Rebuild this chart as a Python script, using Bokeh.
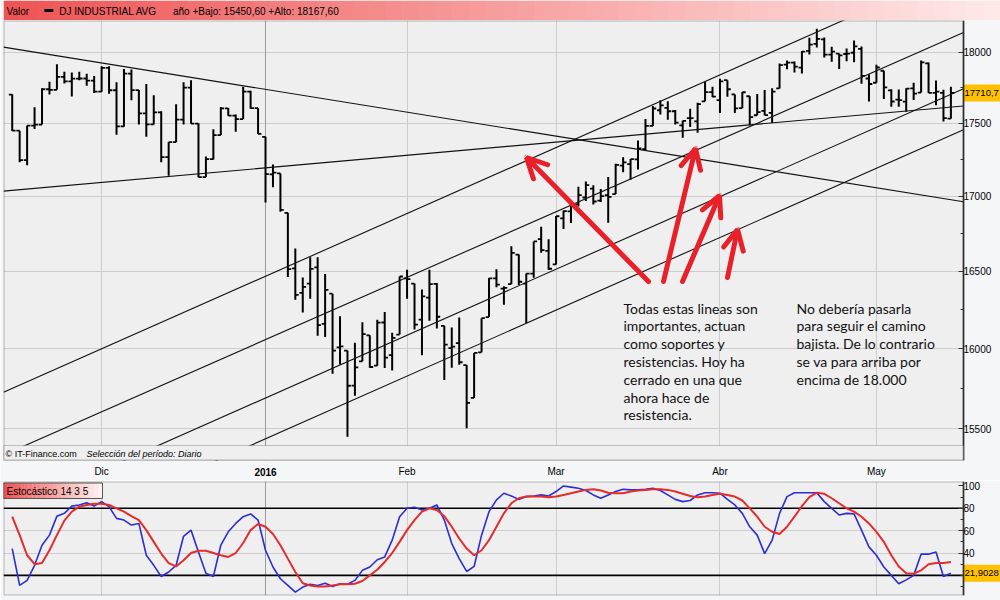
import math
import numpy as np
from bokeh.plotting import figure
from bokeh.layouts import column
from bokeh.models import (Range1d, FixedTicker, PrintfTickFormatter, Label, Arrow,
                          OpenHead, BoxAnnotation, Span, ColumnDataSource, LinearAxis)
from bokeh.embed import file_html
from bokeh.resources import INLINE

# ---------------- data ----------------
trading_days = {
    "2015-11": [12, 13, 16, 17, 18, 19, 20, 23, 24, 25, 27, 30],
    "2015-12": [1, 2, 3, 4, 7, 8, 9, 10, 11, 14, 15, 16, 17, 18, 21, 22, 23, 24, 28, 29, 30, 31],
    "2016-01": [4, 5, 6, 7, 8, 11, 12, 13, 14, 15, 19, 20, 21, 22, 25, 26, 27, 28, 29],
    "2016-02": [1, 2, 3, 4, 5, 8, 9, 10, 11, 12, 16, 17, 18, 19, 22, 23, 24, 25, 26, 29],
    "2016-03": [1, 2, 3, 4, 7, 8, 9, 10, 11, 14, 15, 16, 17, 18, 21, 22, 23, 24, 28, 29, 30, 31],
    "2016-04": [1, 4, 5, 6, 7, 8, 11, 12, 13, 14, 15, 18, 19, 20, 21, 22, 25, 26, 27, 28, 29],
    "2016-05": [2, 3, 4, 5, 6, 9, 10, 11, 12, 13, 16],
}
month_labels = {"2015-12": "Dic", "2016-01": "2016", "2016-02": "Feb",
                "2016-03": "Mar", "2016-04": "Abr", "2016-05": "May"}

opens = [17700, 17448, 17245, 17483, 17490, 17737, 17733, 17824, 17793, 17812, 17813, 17798,
         17720, 17888, 17730, 17478, 17848, 17731, 17568, 17492, 17575, 17265, 17368, 17525, 17749, 17496, 17129, 17252, 17417, 17603, 17552, 17528, 17721, 17604,
         17405, 17147, 17154, 16888, 16520, 16359, 16420, 16526, 16159, 16354, 16009, 15989, 15768, 15921, 16086, 15893, 16168, 15960, 16091,
         16454, 16420, 16186, 16329, 16418, 16147, 16005, 16036, 15897, 15691, 15978, 16203, 16454, 16387, 16417, 16610, 16419, 16485, 16712, 16634,
         16545, 16851, 16897, 16945, 16991, 17051, 16970, 17006, 17014, 17207, 17218, 17250, 17321, 17481, 17590, 17606, 17583, 17485, 17535, 17512, 17652, 17717,
         17661, 17801, 17701, 17605, 17688, 17555, 17586, 17572, 17743, 17912, 17925, 17890, 18009, 18059, 18092, 17982, 17990, 17987, 17996, 18024, 17813,
         17783, 17868, 17729, 17664, 17650, 17743, 17714, 17920, 17711, 17711, 17531]
highs = [17702, 17448, 17483, 17610, 17745, 17790, 17914, 17860, 17855, 17860, 17846, 17830,
         17900, 17900, 17786, 17880, 17876, 17731, 17775, 17695, 17583, 17370, 17631, 17786, 17800, 17500, 17270, 17457, 17612, 17605, 17560, 17755, 17727, 17604,
         17405, 17215, 17154, 16888, 16651, 16460, 16592, 16593, 16482, 16354, 16208, 15989, 16038, 16170, 16086, 16185, 16235, 16102, 16466,
         16510, 16420, 16381, 16511, 16423, 16147, 16136, 16201, 15897, 15974, 16196, 16457, 16514, 16402, 16665, 16610, 16485, 16697, 16795, 16711,
         16867, 16903, 16945, 17063, 17099, 17073, 17049, 17130, 17220, 17265, 17252, 17379, 17529, 17620, 17660, 17652, 17592, 17516, 17601, 17642, 17790, 17754,
         17811, 17801, 17701, 17717, 17688, 17703, 17731, 17744, 17920, 17940, 17933, 18009, 18104, 18168, 18106, 18039, 17990, 18026, 18084, 18041, 17842,
         17911, 17868, 17737, 17736, 17744, 17783, 17940, 17926, 17798, 17734, 17754]
lows = [17445, 17230, 17210, 17460, 17490, 17700, 17733, 17777, 17686, 17800, 17762, 17710,
        17720, 17705, 17420, 17475, 17660, 17490, 17405, 17490, 17230, 17138, 17368, 17490, 17496, 17128, 17129, 17250, 17417, 17552, 17440, 17528, 17600, 17425,
        16957, 17060, 16895, 16463, 16315, 16232, 16322, 16083, 16075, 15842, 15900, 15451, 15704, 15921, 15880, 15893, 15878, 15863, 16091,
        16322, 16123, 15960, 16179, 16130, 15803, 15881, 15899, 15503, 15691, 15978, 16203, 16396, 16282, 16417, 16410, 16165, 16458, 16623, 16511,
        16545, 16779, 16820, 16930, 16968, 16944, 16960, 16821, 17014, 17162, 17111, 17180, 17307, 17481, 17560, 17523, 17490, 17399, 17474, 17434, 17652, 17680,
        17570, 17685, 17570, 17603, 17485, 17555, 17555, 17501, 17743, 17879, 17855, 17848, 17984, 18033, 17963, 17932, 17880, 17936, 17929, 17776, 17651,
        17783, 17669, 17615, 17615, 17580, 17661, 17714, 17710, 17625, 17511, 17531]
closes = [17448, 17245, 17483, 17490, 17737, 17733, 17824, 17793, 17812, 17813, 17798, 17720,
          17888, 17730, 17478, 17848, 17731, 17568, 17492, 17575, 17265, 17368, 17525, 17749, 17496, 17129, 17252, 17417, 17603, 17552, 17528, 17721, 17604, 17425,
          17149, 17159, 16907, 16514, 16346, 16399, 16516, 16151, 16379, 15988, 16016, 15767, 15883, 16094, 15885, 16167, 15944, 16070, 16466,
          16449, 16154, 16337, 16417, 16205, 16027, 16014, 15915, 15660, 15974, 16196, 16454, 16413, 16392, 16621, 16432, 16485, 16697, 16640, 16517,
          16865, 16899, 16944, 17007, 17074, 16964, 17000, 16995, 17213, 17229, 17252, 17326, 17481, 17602, 17624, 17583, 17503, 17516, 17535, 17633, 17717, 17685,
          17793, 17737, 17603, 17716, 17542, 17577, 17556, 17721, 17908, 17926, 17897, 18004, 18054, 18096, 17983, 18004, 17977, 17990, 18042, 17831, 17774,
          17891, 17751, 17651, 17661, 17741, 17706, 17928, 17711, 17720, 17535, 17710.7]

stoch_k = [44, 11, 15.5, 29, 47, 56, 73, 75.5, 82, 83,
           85, 82, 86, 81.5, 71, 69.5, 65, 66.5, 38, 29,
           19, 23, 29, 55, 60.5, 41, 22, 19, 47, 59,
           66.5, 72.5, 75, 69.5, 42.5, 27.5, 17, 11, 5, 9.5,
           12, 11, 13, 10, 12.5, 12, 15.5, 24.5, 27.5, 34,
           36.5, 51.5, 72.5, 80, 81, 78.5, 80, 83, 69.5, 48.5,
           35, 23.5, 28, 56, 77, 87.5, 93.5, 91, 88, 90.5,
           91, 92, 91, 95, 100, 99, 98, 96, 92, 89,
           92, 95, 97, 96.5, 96.5, 97, 98, 96, 92, 88,
           86, 87, 92, 94, 94, 93.5, 88, 83, 75.5, 63.5,
           56, 39.5, 51.5, 75.5, 90.5, 94, 94, 94, 94, 86,
           80, 74, 75.5, 75, 60.5, 45.5, 38, 27.5, 20, 12.5,
           16, 20, 39, 39, 41, 19, 21.9028]
stoch_d = [72.5, 56, 38, 30, 31, 42.5, 56, 69, 77, 81.5,
           83, 84, 84, 83, 80, 77, 73, 69.5, 60.5, 50,
           39.5, 31, 28, 33.5, 40, 42, 42, 40, 38, 36.5,
           40, 49, 60.5, 66, 63.5, 57, 47, 35, 23, 13,
           11, 10, 10, 11, 12, 12, 12.5, 15, 20, 25,
           32, 40, 50, 60.5, 69.5, 77, 80, 78.5, 73, 63.5,
           53, 44, 38, 42.5, 51.5, 63.5, 75.5, 84.5, 89, 90.5,
           90.5, 90.5, 90, 90.5, 92, 93.5, 95, 96.5, 97, 96,
           94, 93.5, 93.5, 95, 96, 96.5, 97, 97, 96.5, 95,
           93, 91, 90, 90.5, 92, 93, 92, 90.5, 87, 80,
           72.5, 63.5, 59, 57, 63.5, 72.5, 82, 90, 94, 93,
           89, 84.5, 80, 77, 72.5, 66.5, 59, 50, 38, 28,
           22, 21.5, 24.5, 30, 31, 31, 32]

price_ticks = [15500, 16000, 16500, 17000, 17500, 18000]
price_minor_ticks = [15250, 15750, 16250, 16750, 17250, 17750, 18250]
stoch_ticks = [40, 60, 80, 100]
stoch_minor_ticks = [10, 20, 30, 50, 70, 90]
stoch_levels = [20, 80]

# trend lines: (index, price) at the left and right edges of the chart
trend_x0 = [-1.17, -1.17, -1.17, -1.17, -1.17, -1.17]
trend_p0 = [15726, 15340, 14984, 14743, 18036, 17034]
trend_x1 = [127.69, 127.69, 127.69, 127.69, 127.69, 127.69]
trend_p1 = [18619, 18141, 17741, 17455, 16962, 17620]

header_left = "Valor"
header_series = "DJ INDUSTRIAL AVG"
header_info = "año +Bajo: 15450,60 +Alto: 18167,60"
note_left = ["Todas estas lineas son", "importantes, actuan", "como soportes y",
             "resistencias. Hoy ha", "cerrado en una que", "ahora hace de", "resistencia."]
note_right = ["No debería pasarla", "para seguir el camino", "bajista. De lo contrario",
              "se va para arriba por", "encima de 18.000"]

# ---------------- derived ----------------
dates = [f"{m}-{d:02d}" for m, ds in trading_days.items() for d in ds]
idx = np.arange(len(dates), dtype=float)
month_first = {}
for i, dstr in enumerate(dates):
    m = dstr[:7]
    if m in month_labels and m not in month_first:
        month_first[m] = i
month_ticks = list(month_first.values())
jan_idx = month_first["2016-01"]
last_close = closes[-1]
last_k = stoch_k[-1]

# ---------------- layout geometry ----------------
X0 = -1.17
KX = 128.86 / 960.0             # index units per pixel
XR = X0 + 997 * KX              # frame x 3..1000 px
XA = X0 + 960 * KX              # axis position (x = 963 px)
Y0, Y1 = 15306.0, 18228.0       # frame y 20..460 px (page)
S0, S1 = 2.0, 104.0             # stoch frame y 481..595 px (page)
LNK = 440.0 / math.log(Y1 / Y0)  # px per ln unit
SK = 114.0 / (S1 - S0)          # px per stoch unit
FONT = "Liberation Sans"
RED = "#e8202a"
ORANGE = "#ffc000"
SIDE = "#f4f6f8"


def px2idx(xp):
    return X0 + (xp - 3) * KX


def py2price(yp):
    return math.exp(math.log(Y1) - (yp - 20) / LNK)


def py2stoch(yp):
    return S1 - (yp - 481) / SK


def grad(c0, c1, n):
    out = []
    for t in np.linspace(0, 1, n):
        c = [int(round(a + (b - a) * t)) for a, b in zip(c0, c1)]
        out.append("#%02x%02x%02x" % tuple(c))
    return out


def style_axis(ax, size="10px"):
    ax.major_label_text_font = FONT
    ax.major_label_text_font_size = size
    ax.major_label_text_color = "black"


def style_value_axis(ax, ticks, minor):
    ax.ticker = FixedTicker(ticks=ticks, minor_ticks=minor)
    ax.formatter = PrintfTickFormatter(format="%d")
    ax.fixed_location = XA
    ax.major_tick_in, ax.major_tick_out = 5, 0
    ax.minor_tick_in, ax.minor_tick_out = 3, 0
    ax.axis_line_color = "#333333"
    ax.axis_line_width = 1.5
    ax.major_tick_line_color = "#333333"
    ax.minor_tick_line_color = "#333333"
    ax.major_label_standoff = 0
    style_axis(ax)


# ---------------- header ----------------
hd = figure(width=1000, height=20, x_range=Range1d(0, 1000), y_range=Range1d(20, 0),
            toolbar_location=None, output_backend="svg", min_border=0,
            x_axis_location=None, y_axis_location=None, outline_line_color=None,
            border_fill_color=SIDE, background_fill_color=SIDE)
hd.grid.visible = False
n = 60
edges = np.linspace(0, 1000, n + 1)
hd.quad(left=edges[:-1], right=edges[1:] + 0.6, top=0, bottom=20,
        fill_color=grad((238, 84, 84), (255, 232, 232), n), line_color=None)
hd.quad(left=[41], right=[50], top=[8.5], bottom=[11.5], fill_color="black", line_color=None)
for x, t in [(3, header_left), (56, header_series), (170, header_info)]:
    hd.add_layout(Label(x=x, y=10.5, text=t, text_font=FONT, text_font_size="10px",
                        text_baseline="middle", text_color="black"))

# ---------------- price panel ----------------
p = figure(width=1000, height=460, x_range=Range1d(X0, XR), y_range=Range1d(Y0, Y1),
           y_axis_type="log", y_axis_location="right", toolbar_location=None,
           output_backend="svg", min_border_left=3, min_border_right=0,
           min_border_top=0, min_border_bottom=20,
           background_fill_color="#efefef", border_fill_color=SIDE,
           outline_line_color=None)
p.xgrid.ticker = FixedTicker(ticks=month_ticks)
p.ygrid.ticker = FixedTicker(ticks=price_ticks)
p.grid.grid_line_color = "#cdcdcd"
p.add_layout(Span(location=jan_idx, dimension="height", line_color="#9a9a9a",
                  line_width=1, level="underlay"))
style_value_axis(p.yaxis[0], price_ticks, price_minor_ticks)

xa = p.xaxis[0]
xa.ticker = FixedTicker(ticks=[t for t in month_ticks if t != jan_idx])
xa.major_label_overrides = {month_first[m]: lab for m, lab in month_labels.items() if m != "2016-01"}
xa.major_tick_in, xa.major_tick_out = 0, 0
xa.minor_tick_in, xa.minor_tick_out = 0, 0
xa.axis_line_color = None
xa.major_label_standoff = 5
style_axis(xa)
ax2016 = LinearAxis(ticker=FixedTicker(ticks=[jan_idx]),
                    major_label_overrides={jan_idx: month_labels["2016-01"]},
                    major_tick_in=0, major_tick_out=0, minor_tick_in=0, minor_tick_out=0,
                    axis_line_color=None, major_label_standoff=-12)
style_axis(ax2016)
ax2016.major_label_text_font_style = "bold"
p.add_layout(ax2016, "below")

src = ColumnDataSource(dict(x=idx, xl=idx - 0.45, xr=idx + 0.45,
                            o=opens, h=highs, l=lows, c=closes))
p.segment("x", "l", "x", "h", source=src, line_color="black", line_width=2)
p.segment("xl", "o", "x", "o", source=src, line_color="black", line_width=1.8)
p.segment("x", "c", "xr", "c", source=src, line_color="black", line_width=1.8)
p.segment(trend_x0, trend_p0, trend_x1, trend_p1, line_color="#111111", line_width=1.1)

# area right of the axis, and the last-value box
p.add_layout(BoxAnnotation(left=XA, fill_color=SIDE, fill_alpha=1, line_color=None, level="glyph"))
p.add_layout(BoxAnnotation(left=XA, top=last_close * math.exp(8.5 / LNK),
                           bottom=last_close * math.exp(-8.5 / LNK),
                           fill_color=ORANGE, fill_alpha=1, line_color=None, level="glyph"))
p.add_layout(Label(x=px2idx(964), y=last_close, text=f"{last_close:.1f}".replace(".", ","),
                   text_font=FONT, text_font_size="9.5px", text_baseline="middle",
                   text_color="black"))

# footer strip inside the frame
p.add_layout(BoxAnnotation(left=X0, right=XA, bottom=Y0, top=py2price(445), fill_color="#efefef",
                           fill_alpha=1, line_color="#444444", line_width=1))
p.add_layout(Label(x=px2idx(5), y=py2price(453), text="© IT-Finance.com", text_font=FONT,
                   text_font_size="9px", text_baseline="middle", text_color="black"))
p.add_layout(Label(x=px2idx(86), y=py2price(453), text="Selección del período: Diario",
                   text_font=FONT, text_font_size="9px", text_font_style="italic",
                   text_baseline="middle", text_color="black"))

# red arrows (tail -> tip), in page pixels
arrows_px = [((648, 281), (526, 157)), ((663, 281), (695, 148)),
             ((682, 281), (719, 195)), ((727, 277), (737, 229))]
for (xs, ys), (xe, ye) in arrows_px:
    p.add_layout(Arrow(end=OpenHead(size=20, line_color=RED, line_width=5, line_cap="round"),
                       x_start=px2idx(xs), y_start=py2price(ys),
                       x_end=px2idx(xe), y_end=py2price(ye),
                       line_color=RED, line_width=5, line_cap="round"))

# comment texts
for k, t in enumerate(note_left):
    p.add_layout(Label(x=px2idx(623), y=py2price(307.5 + 17.8 * k), text=t, text_font="Lato",
                       text_font_size="14px", text_color="#111111", text_baseline="alphabetic"))
for k, t in enumerate(note_right):
    p.add_layout(Label(x=px2idx(796), y=py2price(307.5 + 17.8 * k), text=t, text_font="Lato",
                       text_font_size="14px", text_color="#111111", text_baseline="alphabetic"))

# frame outline (left of the axis only)
p.add_layout(BoxAnnotation(left=X0, right=XA, bottom=Y0, top=Y1, fill_alpha=0,
                           line_color="#222222", line_width=2, level="overlay"))

# ---------------- stochastic panel ----------------
ps = figure(width=1000, height=120, x_range=p.x_range, y_range=Range1d(S0, S1),
            y_axis_location="right", x_axis_location=None, toolbar_location=None,
            output_backend="svg", min_border_left=3, min_border_right=0,
            min_border_top=1, min_border_bottom=5,
            background_fill_color="#efefef", border_fill_color=SIDE,
            outline_line_color=None)
ps.xgrid.ticker = FixedTicker(ticks=month_ticks)
ps.ygrid.ticker = FixedTicker(ticks=[40, 60])
ps.grid.grid_line_color = "#cdcdcd"
ps.add_layout(Span(location=jan_idx, dimension="height", line_color="#9a9a9a",
                   line_width=1, level="underlay"))
style_value_axis(ps.yaxis[0], stoch_ticks, stoch_minor_ticks)

ps.segment(x0=[X0] * len(stoch_levels), y0=stoch_levels, x1=[XA] * len(stoch_levels),
           y1=stoch_levels, line_color="black", line_width=1.6)
ps.line(idx, stoch_k, line_color="#2d2dd8", line_width=1.6)
ps.line(idx, stoch_d, line_color="#e42c2c", line_width=2)

ps.add_layout(BoxAnnotation(left=XA, fill_color=SIDE, fill_alpha=1, line_color=None, level="glyph"))
ps.add_layout(BoxAnnotation(left=XA, top=last_k + 8.5 / SK, bottom=last_k - 8.5 / SK,
                            fill_color=ORANGE, fill_alpha=1, line_color=None, level="glyph"))
ps.add_layout(Label(x=px2idx(964), y=last_k, text=f"{last_k:.4f}".replace(".", ","),
                    text_font=FONT, text_font_size="9.5px", text_baseline="middle",
                    text_color="black"))

# title box with gradient
nb = 24
bx = np.linspace(px2idx(3), px2idx(102), nb + 1)
ps.quad(left=bx[:-1], right=bx[1:] + 0.03, top=py2stoch(482.5), bottom=py2stoch(498),
        fill_color=grad((240, 86, 86), (255, 240, 240), nb), line_color=None)
ps.quad(left=[px2idx(3)], right=[px2idx(102)], top=[py2stoch(482.5)], bottom=[py2stoch(498)],
        fill_color=None, line_color="#555555", line_width=1)
ps.add_layout(Label(x=px2idx(6), y=py2stoch(490.5), text="Estocástico 14 3 5", text_font=FONT,
                    text_font_size="10px", text_baseline="middle", text_color="black"))
ps.add_layout(BoxAnnotation(left=X0, right=XA, bottom=S0, top=S1, fill_alpha=0,
                            line_color="#333333", line_width=2, level="overlay"))

layout = column(hd, p, ps, spacing=0)
open("out.html", "w").write(file_html(layout, INLINE))
